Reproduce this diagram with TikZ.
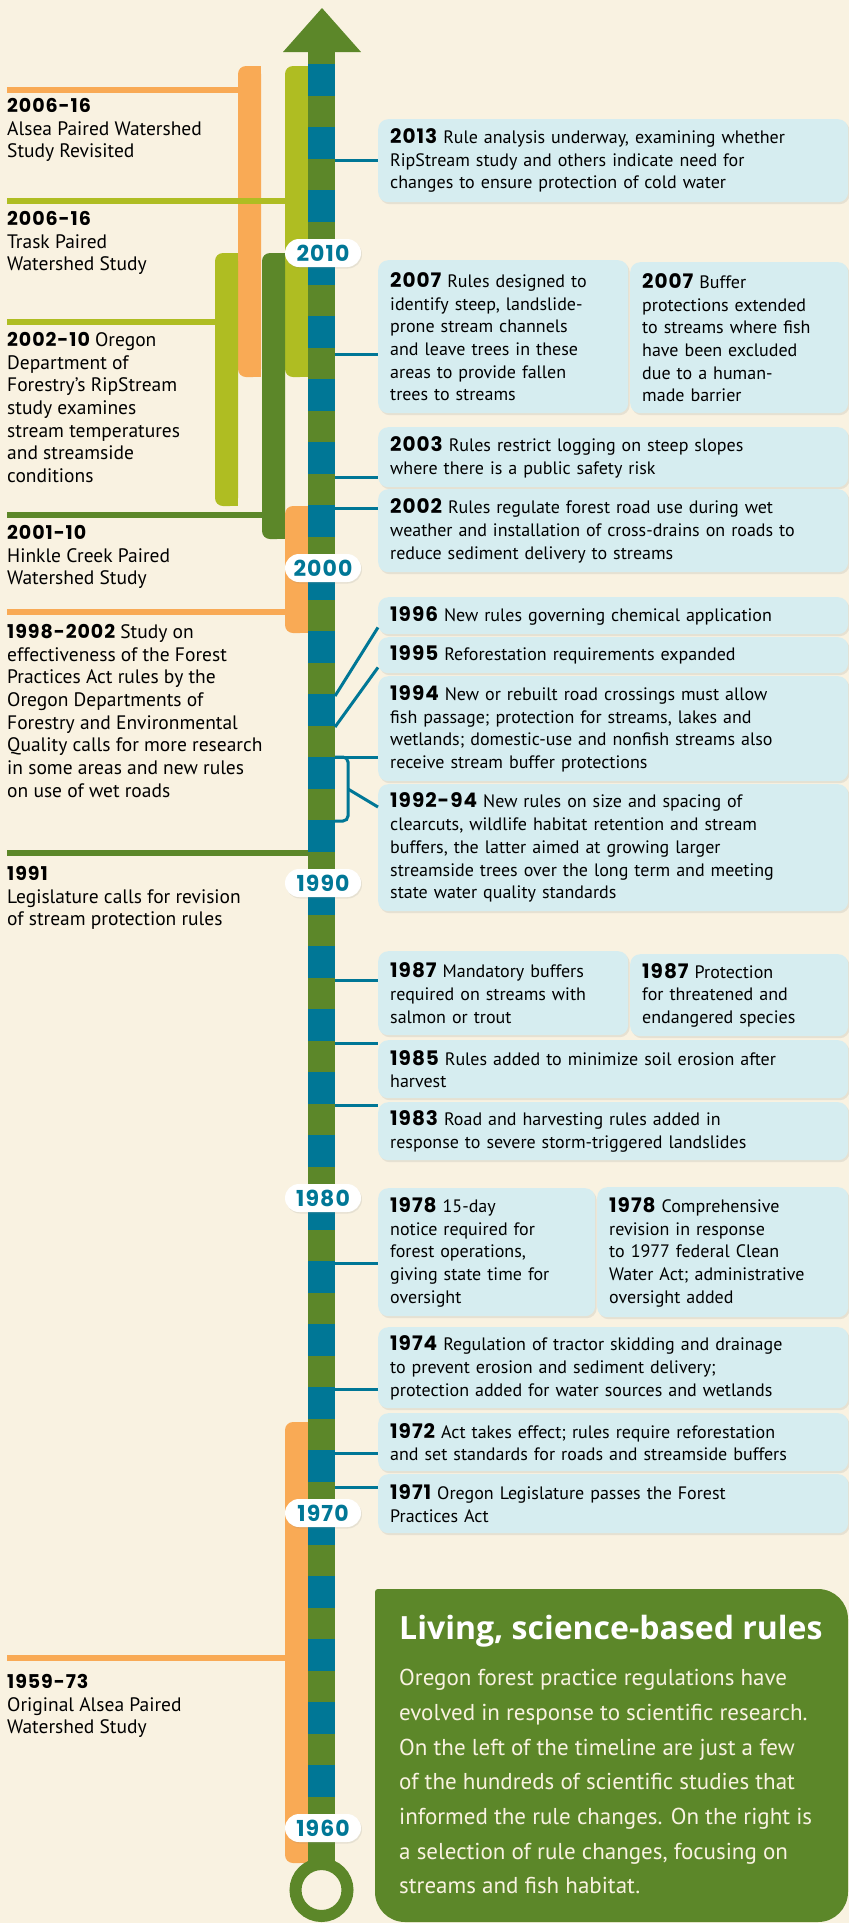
\documentclass[tikz,border=0pt]{standalone}
\usepackage{fontspec}
\setmainfont{PT Sans}
\newfontfamily\yearfont[LetterSpace=5]{Poppins}
\newfontfamily\titlefont{Open Sans}
\usepackage{xcolor}
\usepackage{tikz}
\usetikzlibrary{calc, shadows}

\definecolor{fpcream}{RGB}{249,242,225}
\definecolor{fpgreen}{RGB}{92,135,41}
\definecolor{fpblue}{RGB}{0,119,150}
\definecolor{fporange}{RGB}{249,170,85}
\definecolor{fplime}{RGB}{175,189,34}
\definecolor{fpbox}{RGB}{214,237,240}

\newcommand{\yb}[1]{{\yearfont\bfseries\fontsize{20}{22.7}\selectfont #1}}
\newcommand{\ys}[1]{{\yearfont\bfseries\fontsize{19}{22.7}\selectfont #1}}

\begin{document}
\begin{tikzpicture}[x=1pt, y=-1pt,
    rulebox/.style={fill=fpbox, rounded corners=10pt, anchor=north west, align=left, inner xsep=12pt, inner ysep=0pt, font=\fontsize{18}{22.7}\selectfont, drop shadow={shadow xshift=1.5pt, shadow yshift=-2pt, opacity=0.15}},
    decade/.style={fill=white, rounded corners=14pt, minimum width=76pt, minimum height=28pt, inner sep=0pt, text=fpblue, font=\yearfont\bfseries\fontsize{22}{24}\selectfont, drop shadow={shadow xshift=1pt, shadow yshift=-1.5pt, opacity=0.15}},
    study/.style={anchor=north west, inner sep=0pt, align=left, font=\fontsize{19.5}{22.7}\selectfont},
    conn/.style={draw=fpblue, line width=3pt},
    tie/.style={line width=5.5pt}
]
    \useasboundingbox (0,0) rectangle (849,1923);
    \fill[fpcream] (0,0) rectangle (849,1923);

    % study bars on the left
    \foreach \c/\xa/\ta/\ba in {fporange/238/66/377, fplime/285/66/377, fplime/215/253/506, fpgreen/262/253/539, fporange/285/506/633, fporange/285/1422/1863} {
        \fill[\c, rounded corners=8pt] (\xa,\ta) rectangle ({\xa+23},\ba);
        \fill[\c] ({\xa+11},\ta) rectangle ({\xa+23},\ba);
    }
    \foreach \c/\yy/\xe in {fporange/90/238, fplime/201/285, fplime/322/215, fpgreen/515/262, fporange/612/285, fpgreen/853/308, fporange/1658/285}
        \draw[\c, tie] (7,\yy) -- (\xe,\yy);

    % timeline
    \fill[fpgreen] (308,51) rectangle (335,1866);
    \foreach \yy in {2015,2013,...,1961}
        \fill[fpblue] (308,{253+(2010-\yy)*31.5}) rectangle (335,{253+(2009-\yy)*31.5});
    \fill[fpgreen] (283,52) -- (322,8) -- (361,52) -- cycle;
    \draw[fpgreen, line width=12pt] (321.5,1890) circle (26);

    % rule changes
    \node[rulebox, text width=446pt, minimum height=83pt] (b2013) at (378,119) {\yb{2013} Rule analysis underway, examining whether\\RipStream study and others indicate need for\\changes to ensure protection of cold water};
    \node[rulebox, text width=226pt, minimum height=153pt] (b2007a) at (378,260) {\yb{2007} Rules designed to\\identify steep, landslide-\\prone stream channels\\and leave trees in these\\areas to provide fallen\\trees to streams};
    \node[rulebox, text width=194pt, minimum height=151pt] (b2007b) at (630,262) {\yb{2007} Buffer\\protections extended\\to streams where fish\\have been excluded\\due to a human-\\made barrier};
    \node[rulebox, text width=446pt, minimum height=60pt] (b2003) at (378,427) {\yb{2003} Rules restrict logging on steep slopes\\where there is a public safety risk};
    \node[rulebox, text width=446pt, minimum height=83pt] (b2002) at (378,489) {\yb{2002} Rules regulate forest road use during wet\\weather and installation of cross-drains on roads to\\reduce sediment delivery to streams};
    \node[rulebox, text width=446pt, minimum height=37pt] (b1996) at (378,597) {\yb{1996} New rules governing chemical application};
    \node[rulebox, text width=446pt, minimum height=36pt] (b1995) at (378,637) {\yb{1995} Reforestation requirements expanded};
    \node[rulebox, text width=446pt, minimum height=105pt] (b1994) at (378,676) {\yb{1994} New or rebuilt road crossings must allow\\fish passage; protection for streams, lakes and\\wetlands; domestic-use and nonfish streams also\\receive stream buffer protections};
    \node[rulebox, text width=446pt, minimum height=127pt] (b1992) at (378,784) {\yb{1992-94} New rules on size and spacing of\\clearcuts, wildlife habitat retention and stream\\buffers, the latter aimed at growing larger\\streamside trees over the long term and meeting\\state water quality standards};
    \node[rulebox, text width=226pt, minimum height=84pt] (b1987a) at (378,951) {\yb{1987} Mandatory buffers\\required on streams with\\salmon or trout};
    \node[rulebox, text width=194pt, minimum height=82pt] (b1987b) at (630,954) {\yb{1987} Protection\\for threatened and\\endangered species};
    \node[rulebox, text width=446pt, minimum height=58pt] (b1985) at (378,1040) {\yb{1985} Rules added to minimize soil erosion after\\harvest};
    \node[rulebox, text width=446pt, minimum height=58pt] (b1983) at (378,1102) {\yb{1983} Road and harvesting rules added in\\response to severe storm-triggered landslides};
    \node[rulebox, text width=193pt, minimum height=128pt] (b1978a) at (378,1188) {\yb{1978} 15-day\\notice required for\\forest operations,\\giving state time for\\oversight};
    \node[rulebox, text width=227pt, minimum height=130pt] (b1978b) at (597,1187) {\yb{1978} Comprehensive\\revision in response\\to 1977 federal Clean\\Water Act; administrative\\oversight added};
    \node[rulebox, text width=446pt, minimum height=81pt] (b1974) at (378,1327) {\yb{1974} Regulation of tractor skidding and drainage\\to prevent erosion and sediment delivery;\\protection added for water sources and wetlands};
    \node[rulebox, text width=446pt, minimum height=58pt] (b1972) at (378,1413) {\yb{1972} Act takes effect; rules require reforestation\\and set standards for roads and streamside buffers};
    \node[rulebox, text width=446pt, minimum height=59pt] (b1971) at (378,1474) {\yb{1971} Oregon Legislature passes the Forest\\Practices Act};

    % ties from the timeline to the boxes
    \foreach \k/\yy in {2013/160, 2007/354, 2003/477, 2002/508, 1996/696, 1995/727, 1994/757, 1992/821, 1987/980, 1985/1043, 1983/1105, 1978/1263, 1974/1389, 1972/1453, 1971/1487}
        \coordinate (y\k) at (335,\yy);
    \foreach \k/\b in {2013/b2013, 2007/b2007a, 2003/b2003, 2002/b2002, 1994/b1994, 1987/b1987a, 1985/b1985, 1983/b1983, 1978/b1978a, 1974/b1974, 1972/b1972, 1971/b1971}
        \draw[conn] (y\k) -- (y\k -| \b.west);
    \draw[conn] (y1996) -- ([yshift=7pt]b1996.south west);
    \draw[conn] (y1995) -- ([yshift=6pt]b1995.south west);
    \draw[conn, rounded corners=5pt] (y1994) -- ++(13,0) -- ($(y1992)+(13,0)$) -- (y1992);
    \draw[conn] ($(y1992)!0.5!(y1994)+(13,0)$) -- ([yshift=-23pt]b1992.north west);

    % decades
    \foreach \d in {2010,2000,...,1960}
        \node[decade] (d\d) at (323,{253+(2010-\d)*31.5}) {\d};

    % studies
    \node[study] (s2006a) at (7,98) {\ys{2006-16}\\Alsea Paired Watershed\\Study Revisited};
    \node[study] (s2006t) at (7,211) {\ys{2006-16}\\Trask Paired\\Watershed Study};
    \node[study] (s2002) at (7,332) {\ys{2002-10} Oregon\\Department of\\Forestry’s RipStream\\study examines\\stream temperatures\\and streamside\\conditions};
    \node[study] (s2001) at (7,525) {\ys{2001-10}\\Hinkle Creek Paired\\Watershed Study};
    \node[study] (s1998) at (7,624) {\ys{1998-2002} Study on\\effectiveness of the Forest\\Practices Act rules by the\\Oregon Departments of\\Forestry and Environmental\\Quality calls for more research\\in some areas and new rules\\on use of wet roads};
    \node[study] (s1991) at (7,866) {\ys{1991}\\Legislature calls for revision\\of stream protection rules};
    \node[study] (s1959) at (7,1674) {\ys{1959-73}\\Original Alsea Paired\\Watershed Study};

    % summary
    \fill[fpgreen, rounded corners=30pt] (375,1589) rectangle (848,1922);
    \fill[fpgreen, rounded corners=3pt] (375,1589) rectangle (430,1650);
    \node[anchor=north west, inner sep=0pt, text=white, font=\titlefont\bfseries\fontsize{32}{36}\selectfont] (sumtitle) at (399,1615) {Living, science-based rules};
    \node[anchor=north west, inner sep=0pt, align=left, text=fpcream, font=\fontsize{23}{34.7}\selectfont] (sumbody) at (399,1669) {Oregon forest practice regulations have\\evolved in response to scientific research.\\On the left of the timeline are just a few\\of the hundreds of scientific studies that\\informed the rule changes. On the right is\\a selection of rule changes, focusing on\\streams and fish habitat.};
\end{tikzpicture}
\end{document}
